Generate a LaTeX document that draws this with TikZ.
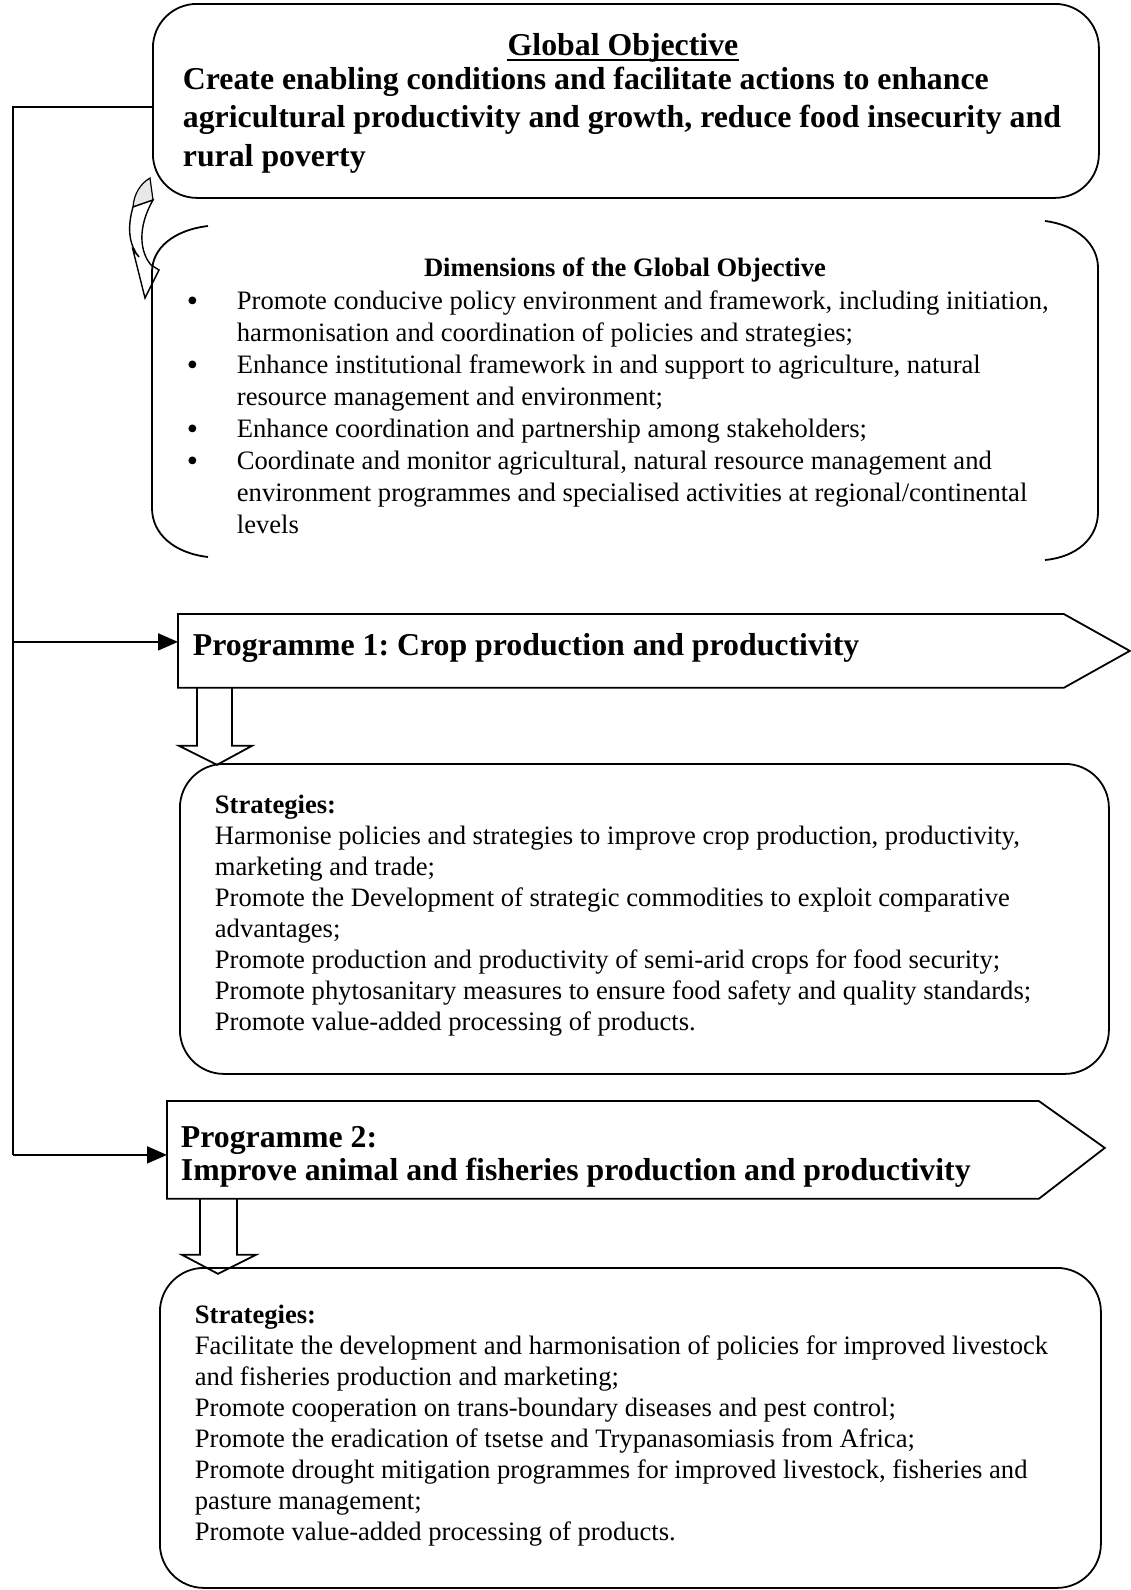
\documentclass[tikz,border=0pt]{standalone}
\usepackage{fontspec}
\setmainfont{Liberation Serif}
\usetikzlibrary{calc,arrows.meta}
\frenchspacing
\newcommand{\bigdot}{\smash{\raisebox{-1.3pt}{\fontsize{16}{16}\selectfont\textbullet}}}
\begin{document}
\begin{tikzpicture}[x=0.5pt,y=-0.5pt,line width=0.9pt,
  box/.style={draw,rounded corners=22pt,inner sep=0,anchor=north west},
  area/.style={inner sep=0,anchor=north west},
  bigtext/.style={inner sep=0,font=\fontsize{15.9}{19.25}\selectfont\bfseries},
  bodytext/.style={inner sep=0,anchor=base west,font=\fontsize{13.3}{15.5}\selectfont},
  arr/.style={-{Triangle[length=10pt,width=8.5pt]}},
  blockarrow/.style={line width=0.9pt,line join=miter}]
\useasboundingbox (0,0) rectangle (1130,1590);

% ---------- Global objective ----------
\node[box,minimum width=473pt,minimum height=97pt] (gbox) at (152,3) {};
\node[bigtext,anchor=base] (gtitle) at (623,55) {Global Objective};
\draw[line width=0.8pt] ($(gtitle.base west)+(0,5)$) -- ($(gtitle.base east)+(0,5)$);
\node[bigtext,anchor=base west] (gtext) at (182,89)
 {\begin{tabular}[t]{@{}l@{}}Create enabling conditions and facilitate actions to enhance\\
  agricultural productivity and growth, reduce food insecurity and\\
  rural poverty\end{tabular}};

% ---------- curved arrow ----------
\filldraw[fill=gray!18,line width=0.6pt] (150,178) .. controls (140,184) and (134,194) .. (133,207) -- (153,200) -- cycle;
\draw[fill=white,line width=0.7pt] (133,207) .. controls (127,228) and (129,245) .. (139,257)
  -- (133,250) -- (145,298) -- (159,270) -- (151,265)
  .. controls (140,252) and (137,228) .. (153,200) -- cycle;

% ---------- Dimensions (double bracket) ----------
\draw (208,226) .. controls (174,230) and (152,248) .. (152,272) -- (152,508)
      .. controls (152,534) and (174,553) .. (208,557);
\draw (1045,221) .. controls (1077,225) and (1098,244) .. (1098,268) -- (1098,512)
      .. controls (1098,538) and (1077,557) .. (1045,560);
\node[inner sep=0,anchor=base,font=\fontsize{13.3}{16}\selectfont\bfseries] (dtitle) at (625,276)
 {Dimensions of the Global Objective};
\node[inner sep=0,anchor=base west,font=\fontsize{13.3}{16}\selectfont] (dlist) at (186,309)
 {\begin{tabular}[t]{@{}p{25pt}@{}l@{}}
 \bigdot & Promote conducive policy environment and framework, including initiation,\\
  & harmonisation and coordination of policies and strategies;\\
 \bigdot & Enhance institutional framework in and support to agriculture, natural\\
  & resource management and environment;\\
 \bigdot & Enhance coordination and partnership among stakeholders;\\
 \bigdot & Coordinate and monitor agricultural, natural resource management and\\
  & environment programmes and specialised activities at regional/continental\\
  & levels
 \end{tabular}};

% ---------- Programme 1 ----------
\node[area,minimum width=442pt,minimum height=36pt] (p1) at (178,614) {};
\draw[line join=miter] (p1.north west) -- (p1.north east) -- ($(p1.east)+(66,0)$)
  -- (p1.south east) -- (p1.south west) -- cycle;
\node[bigtext,anchor=base west] (p1t) at (192,655) {Programme 1: Crop production and productivity};
\draw[blockarrow] ($(p1.south west)+(19,0)$) -- ++(0,58) -- ++(-18,0)
  -- ($(p1.south west)+(39,77)$) -- ($(p1.south west)+(74,58)$) -- ++(-20,0)
  -- ($(p1.south west)+(54,0)$);

% ---------- Strategies 1 ----------
\node[box,minimum width=464.5pt,minimum height=155pt] (s1) at (179,763) {};
\node[bodytext] (s1t) at (214,813)
 {\begin{tabular}[t]{@{}l@{}}\textbf{Strategies:}\\
 Harmonise policies and strategies to improve crop production, productivity,\\
 marketing and trade;\\
 Promote the Development of strategic commodities to exploit comparative\\
 advantages;\\
 Promote production and productivity of semi-arid crops for food security;\\
 Promote phytosanitary measures to ensure food safety and quality standards;\\
 Promote value-added processing of products.
 \end{tabular}};

% ---------- Programme 2 ----------
\node[area,minimum width=435pt,minimum height=48pt] (p2) at (167,1101) {};
\draw[line join=miter] (p2.north west) -- (p2.north east) -- ($(p2.east)+(66,-2)$)
  -- (p2.south east) -- (p2.south west) -- cycle;
\node[inner sep=0,anchor=base west,font=\fontsize{15.9}{16.5}\selectfont\bfseries] (p2t) at (180,1147)
 {\begin{tabular}[t]{@{}l@{}}Programme 2:\\ Improve animal and fisheries production and productivity\end{tabular}};
\draw[blockarrow] ($(p2.south west)+(33,0)$) -- ++(0,56) -- ++(-18,0)
  -- ($(p2.south west)+(51,75)$) -- ($(p2.south west)+(89,56)$) -- ++(-19,0)
  -- ($(p2.south west)+(70,0)$);

% ---------- Strategies 2 ----------
\node[box,minimum width=470.5pt,minimum height=160pt] (s2) at (159,1267) {};
\node[bodytext] (s2t) at (194,1323)
 {\begin{tabular}[t]{@{}l@{}}\textbf{Strategies:}\\
 Facilitate the development and harmonisation of policies for improved livestock\\
 and fisheries production and marketing;\\
 Promote cooperation on trans-boundary diseases and pest control;\\
 Promote the eradication of tsetse and Trypanasomiasis from Africa;\\
 Promote drought mitigation programmes for improved livestock, fisheries and\\
 pasture management;\\
 Promote value-added processing of products.
 \end{tabular}};

% ---------- feedback connectors ----------
\coordinate (lx) at (13,0);
\coordinate (g0) at ($(gbox.west)+(0,6)$);
\coordinate (a1) at ($(p1.west)+(0,-9)$);
\coordinate (a2) at ($(p2.west)+(0,5)$);
\draw (g0) -- (g0 -| lx) -- (lx |- a2);
\draw[arr] (lx |- a1) -- (a1);
\draw[arr] (lx |- a2) -- (a2);
\end{tikzpicture}
\end{document}
